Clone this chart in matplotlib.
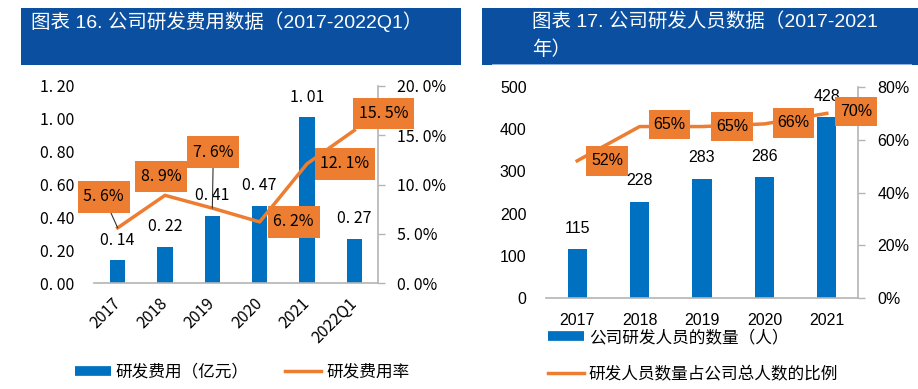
import matplotlib
matplotlib.use('Agg')
import matplotlib.pyplot as plt
from matplotlib.patches import Rectangle
from matplotlib.lines import Line2D
from matplotlib.path import Path
from matplotlib.ticker import FixedLocator

W, H = 918, 389
plt.rcParams['font.family'] = ['Noto Sans CJK SC', 'DejaVu Sans']

# ---------------- data ----------------
rd_years = ['2017', '2018', '2019', '2020', '2021', '2022Q1']
rd_expense = [0.14, 0.22, 0.41, 0.47, 1.01, 0.27]          # 亿元
rd_rate = [5.6, 8.9, 7.6, 6.2, 12.1, 15.5]                   # %
rd_left_ticks = [0.0, 0.2, 0.4, 0.6, 0.8, 1.0, 1.2]
rd_right_ticks = [0, 5, 10, 15, 20]

staff_years = ['2017', '2018', '2019', '2020', '2021']
staff_count = [115, 228, 283, 286, 428]                       # 人
staff_ratio = [52, 65, 65, 66, 70]                            # %
staff_left_ticks = [0, 100, 200, 300, 400, 500]
staff_right_ticks = [0, 20, 40, 60, 80]

title_left = '图表 16. 公司研发费用数据（2017-2022Q1）'
title_right_1 = '图表 17. 公司研发人员数据（2017-2021'
title_right_2 = '年）'
legend_left = ['研发费用（亿元）', '研发费用率']
legend_right = ['公司研发人员的数量（人）', '研发人员数量占公司总人数的比例']

# ---------------- styles ----------------
BLUE = '#0070C0'
ORANGE = '#ED7D31'
TITLE_BG = '#0A4FA0'
SPINE = '#B4B4B4'
ARIAL = ['Liberation Sans', 'Noto Sans CJK SC']

fig = plt.figure(figsize=(W / 100, H / 100), dpi=100)


def px_rect(x0, y0, x1, y1):
    return [x0 / W, 1 - y1 / H, (x1 - x0) / W, (y1 - y0) / H]


def add_rect(x0, y0, x1, y1, color):
    fig.patches.append(Rectangle((x0 / W, 1 - y1 / H), (x1 - x0) / W, (y1 - y0) / H,
                                 transform=fig.transFigure, facecolor=color,
                                 edgecolor='none', zorder=0))


def rect_box(padx, pady):
    def box(x0, y0, width, height, mutation_size):
        px = padx * mutation_size
        py = pady * mutation_size
        a, b = x0 - px, y0 - py
        c, d = x0 + width + px, y0 + height + py
        return Path([(a, b), (c, b), (c, d), (a, d), (a, b)],
                    [Path.MOVETO, Path.LINETO, Path.LINETO, Path.LINETO, Path.CLOSEPOLY])
    return box


# title bars
add_rect(21, 8, 461, 65, TITLE_BG)
add_rect(482, 8, 918, 65, TITLE_BG)
add_rect(492, 63.5, 912, 65, '#8FB4E3')
fig.text(31 / W, 1 - 22 / H, title_left, color='white', fontsize=14, va='center',
         ha='left', family=ARIAL)
fig.text(532 / W, 1 - 22 / H, title_right_1, color='white', fontsize=14, va='center',
         ha='left', family=ARIAL)
fig.text(532 / W, 1 - 50 / H, title_right_2, color='white', fontsize=14, va='center',
         ha='left', family=ARIAL)


def dotfmt(s):
    return s.replace('.', '. ')


# ---------------- left chart ----------------
ax1 = fig.add_axes(px_rect(94, 86, 378, 283))
x1 = list(range(len(rd_years)))
ax1.bar(x1, rd_expense, width=0.32, color=BLUE, zorder=2)
ax1.set_xlim(-0.5, len(rd_years) - 0.5)
ax1.set_ylim(rd_left_ticks[0], rd_left_ticks[-1])
ax1.yaxis.set_major_locator(FixedLocator(rd_left_ticks))
ax1.set_yticklabels([dotfmt(f'{v:.2f}') for v in rd_left_ticks], fontsize=11.5)
ax1.set_xticks(x1)
ax1.set_xticklabels(rd_years, rotation=45, ha='right', va='center',
                    rotation_mode='anchor', fontsize=11.5)
ax1.tick_params(axis='y', length=0, pad=14)
ax1.tick_params(axis='x', length=0, pad=13)
for s in ['top', 'left', 'right']:
    ax1.spines[s].set_visible(False)
ax1.spines['bottom'].set_color(SPINE)
ax1.spines['bottom'].set_linewidth(1.2)
for i, v in enumerate(rd_expense):
    ax1.annotate(dotfmt(f'{v:.2f}'), xy=(i, v), xytext=(0, 20), textcoords='offset pixels',
                 ha='center', va='center', fontsize=11.5)

ax2 = ax1.twinx()
ax2.plot(x1, rd_rate, color=ORANGE, lw=2.5, zorder=3)
ax2.set_ylim(rd_right_ticks[0], rd_right_ticks[-1])
ax2.yaxis.set_major_locator(FixedLocator(rd_right_ticks))
ax2.set_yticklabels([dotfmt(f'{v:.1f}') + '%' for v in rd_right_ticks], fontsize=11.5)
ax2.tick_params(axis='y', length=5, width=1, color=SPINE, pad=9)
for s in ['top', 'left', 'bottom']:
    ax2.spines[s].set_visible(False)
ax2.spines['right'].set_color(SPINE)
ax2.spines['right'].set_linewidth(1.2)

rate_offsets = [(-14, 31), (-4, 19), (1, 56), (34, 0), (38, 0), (29, 17)]
rate_leader = [True, False, True, False, False, False]
for i, v in enumerate(rd_rate):
    dx, dy = rate_offsets[i]
    kw = dict(arrowprops=dict(arrowstyle='-', color='#333333', lw=0.8,
                              shrinkA=0, shrinkB=0)) if rate_leader[i] else {}
    ax2.annotate(dotfmt(f'{v:.1f}') + '%', xy=(i, v), xytext=(dx, dy),
                 textcoords='offset pixels', ha='center', va='center', fontsize=11.5,
                 bbox=dict(boxstyle=rect_box(0.36, 0.45), fc=ORANGE, ec='none'),
                 zorder=5, **kw)

fig.legend(handles=[Line2D([], [], color=BLUE, lw=7, solid_capstyle='butt'),
                    Line2D([], [], color=ORANGE, lw=2.5)],
           labels=legend_left, loc='center', bbox_to_anchor=(242 / W, 1 - 372 / H),
           ncol=2, frameon=False, fontsize=12, handlelength=2.15, handletextpad=0.3,
           columnspacing=2.2, borderpad=0, borderaxespad=0)

# ---------------- right chart ----------------
ax3 = fig.add_axes(px_rect(546, 87, 858, 298))
x3 = list(range(len(staff_years)))
ax3.bar(x3, staff_count, width=0.31, color=BLUE, zorder=2)
ax3.set_xlim(-0.5, len(staff_years) - 0.5)
ax3.set_ylim(staff_left_ticks[0], staff_left_ticks[-1])
ax3.yaxis.set_major_locator(FixedLocator(staff_left_ticks))
ax3.set_yticklabels([str(v) for v in staff_left_ticks], fontsize=11.5, family=ARIAL)
ax3.set_xticks(x3)
ax3.set_xticklabels(staff_years, fontsize=11.5, family=ARIAL)
ax3.tick_params(axis='y', length=0, pad=14)
ax3.tick_params(axis='x', length=0, pad=11)
for s in ['top', 'left', 'right']:
    ax3.spines[s].set_visible(False)
ax3.spines['bottom'].set_color(SPINE)
ax3.spines['bottom'].set_linewidth(1.2)
for i, v in enumerate(staff_count):
    ax3.annotate(str(v), xy=(i, v), xytext=(0, 21), textcoords='offset pixels',
                 ha='center', va='center', fontsize=11.5, family=ARIAL)

ax4 = ax3.twinx()
ax4.plot(x3, staff_ratio, color=ORANGE, lw=2.5, zorder=3)
ax4.set_ylim(staff_right_ticks[0], staff_right_ticks[-1])
ax4.yaxis.set_major_locator(FixedLocator(staff_right_ticks))
ax4.set_yticklabels([f'{v}%' for v in staff_right_ticks], fontsize=11.5, family=ARIAL)
ax4.tick_params(axis='y', length=5, width=1, color=SPINE, pad=9)
for s in ['top', 'left', 'bottom']:
    ax4.spines[s].set_visible(False)
ax4.spines['right'].set_color(SPINE)
ax4.spines['right'].set_linewidth(1.2)

ratio_offsets = [(30, 0), (30, 2), (30, 0), (29, 1), (29, 2)]
for i, v in enumerate(staff_ratio):
    dx, dy = ratio_offsets[i]
    ax4.annotate(f'{v}%', xy=(i, v), xytext=(dx, dy), textcoords='offset pixels',
                 ha='center', va='center', fontsize=11.5, family=ARIAL,
                 bbox=dict(boxstyle=rect_box(0.3, 0.45), fc=ORANGE, ec='none'), zorder=5)

fig.legend(handles=[Line2D([], [], color=BLUE, lw=7, solid_capstyle='butt'),
                    Line2D([], [], color=ORANGE, lw=2.5)],
           labels=legend_right, loc='center left', bbox_to_anchor=(548 / W, 1 - 356 / H),
           ncol=1, frameon=False, fontsize=12, handlelength=2.15, handletextpad=0.3,
           labelspacing=1.2, borderpad=0, borderaxespad=0)

fig.savefig('out.png', dpi=100)
